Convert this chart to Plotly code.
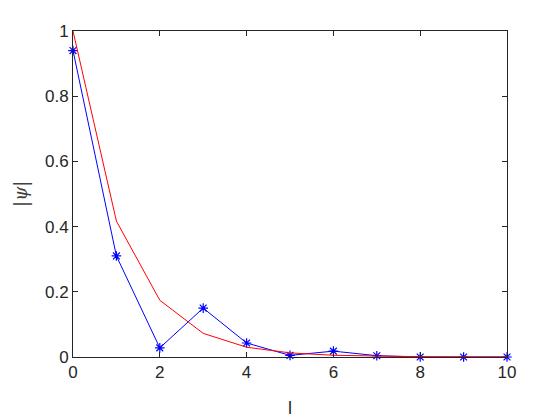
import plotly.graph_objects as go

l_vals = [0, 1, 2, 3, 4, 5, 6, 7, 8, 9, 10]
psi_blue = [0.94, 0.31, 0.028, 0.15, 0.043, 0.005, 0.018, 0.004, 0.0, 0.0, 0.0]
psi_red = [1.0, 0.417, 0.174, 0.0725, 0.030, 0.0126, 0.0053, 0.0022, 0.0009, 0.0004, 0.00016]

x_ticks = [0, 2, 4, 6, 8, 10]
y_ticks = [0, 0.2, 0.4, 0.6, 0.8, 1]
y_tick_text = ["0", "0.2", "0.4", "0.6", "0.8", "1"]

axis_col = "#262626"

fig = go.Figure()
fig.add_trace(go.Scatter(
    x=l_vals, y=psi_blue, mode="lines+markers",
    line=dict(color="#0000ff", width=1),
    marker=dict(symbol="asterisk-open", size=8, color="#0000ff",
                line=dict(color="#0000ff", width=1.2)),
    showlegend=False, cliponaxis=False,
))
fig.add_trace(go.Scatter(
    x=l_vals, y=psi_red, mode="lines",
    line=dict(color="#ff0000", width=1),
    showlegend=False,
))

fig.update_layout(
    width=552, height=412,
    margin=dict(l=65, r=53, t=23, b=63),
    paper_bgcolor="white", plot_bgcolor="white",
    font=dict(family="Liberation Sans, Arial, sans-serif", size=17, color=axis_col),
    xaxis=dict(range=[0, 10], tickvals=x_ticks, showgrid=False, zeroline=False,
               showline=True, linecolor=axis_col, linewidth=1, mirror="ticks",
               ticks="inside", ticklen=5, tickcolor=axis_col, tickwidth=1,
               tickfont=dict(size=17, color=axis_col)),
    yaxis=dict(range=[0, 1], tickvals=y_ticks, ticktext=y_tick_text,
               showgrid=False, zeroline=False,
               showline=True, linecolor=axis_col, linewidth=1, mirror="ticks",
               ticks="inside", ticklen=5, tickcolor=axis_col, tickwidth=1,
               tickfont=dict(size=17, color=axis_col)),
    annotations=[
        dict(text="l", x=0.5, y=-0.156, xref="paper", yref="paper",
             showarrow=False, xanchor="center", yanchor="middle",
             font=dict(size=18, color=axis_col, family="Liberation Sans, Arial, sans-serif")),
        dict(text="|<i>ψ</i>|", x=-0.12, y=0.5, xref="paper", yref="paper",
             showarrow=False, xanchor="center", yanchor="middle", textangle=-90,
             font=dict(size=18, color="#404040", family="DejaVu Serif, serif")),
    ],
)

fig.write_html("out.html")
